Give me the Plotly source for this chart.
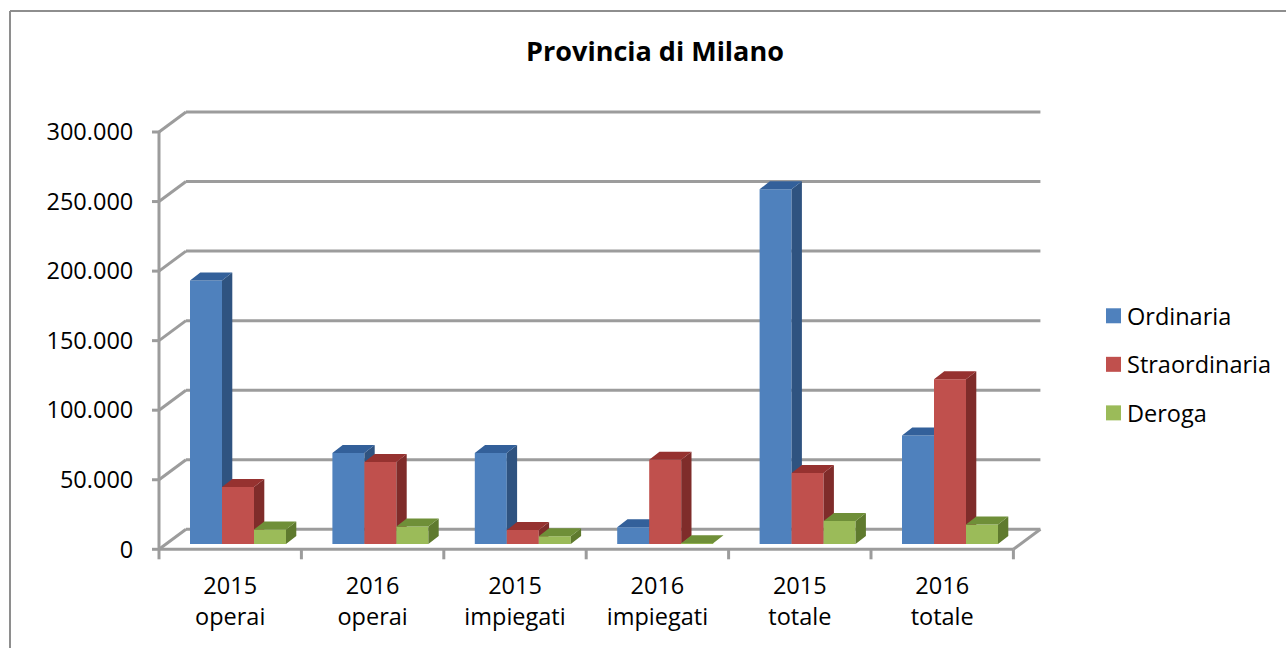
import plotly.graph_objects as go

title = "Provincia di Milano"
categories = ["2015<br>operai", "2016<br>operai", "2015<br>impiegati", "2016<br>impiegati", "2015<br>totale", "2016<br>totale"]
series_names = ["Ordinaria", "Straordinaria", "Deroga"]
ordinaria = [189500, 65500, 65500, 12000, 255000, 78000]
straordinaria = [41000, 59000, 10000, 60500, 51000, 118500]
deroga = [10500, 12500, 5500, 500, 16500, 14000]
y_ticks = [0, 50000, 100000, 150000, 200000, 250000, 300000]
y_tick_labels = ["0", "50.000", "100.000", "150.000", "200.000", "250.000", "300.000"]

front = ["#4F81BD", "#C0504D", "#9BBB59"]
side = ["#2F5380", "#7F2C2A", "#5F7A2E"]
top = ["#33609A", "#963230", "#6F8F38"]
GRID = "#9C9C9C"
FONT = "Open Sans"
FS = 23.5

W, H = 1286, 648
L, R, T, B = 148, 1048, 95, 562
PX_X = 142.4
PX_Y = 417.3 / 300000
X0_PX, Y0_PX = 159, 549.3
xr = [-0.5 + (L - X0_PX) / PX_X, -0.5 + (R - X0_PX) / PX_X]
yr = [(Y0_PX - B) / PX_Y, (Y0_PX - T) / PX_Y]
DX, DY = 27 / PX_X, 20 / PX_Y          # depth of the chart walls
BAR_W = 32 / PX_X
BAR_SHIFT = 7.8 / PX_X
BAR_BASE = 5.3 / PX_Y
BDX, BDY = 10.3 / PX_X, 8 / PX_Y       # depth of one bar
xs0, xs1 = -0.5, 5.5

fig = go.Figure()
values = [ordinaria, straordinaria, deroga]
for s, (name, vals) in enumerate(zip(series_names, values)):
    suffix = "" if s == 0 else str(s + 1)
    xa, ya = "x" + suffix, "y" + suffix
    xc = [i + BAR_SHIFT + (s - 1) * BAR_W for i in range(len(vals))]
    fig.add_trace(go.Bar(x=xc, y=vals, base=[BAR_BASE] * len(vals), width=BAR_W, marker=dict(color=front[s], line=dict(width=0)),
                         name=name, xaxis=xa, yaxis=ya, showlegend=False))
    sx, sy, tx, ty = [], [], [], []
    for c, v in zip(xc, vals):
        r, l, b, t = c + BAR_W / 2, c - BAR_W / 2, BAR_BASE, BAR_BASE + v
        sx += [r, r + BDX, r + BDX, r, r, None]
        sy += [b, b + BDY, t + BDY, t, b, None]
        tx += [l, l + BDX, r + BDX, r, l, None]
        ty += [t, t + BDY, t + BDY, t, t, None]
    fig.add_trace(go.Scatter(x=sx, y=sy, mode="lines", fill="toself", fillcolor=side[s], line=dict(width=0), xaxis=xa, yaxis=ya, showlegend=False, hoverinfo="skip"))
    fig.add_trace(go.Scatter(x=tx, y=ty, mode="lines", fill="toself", fillcolor=top[s], line=dict(width=0), xaxis=xa, yaxis=ya, showlegend=False, hoverinfo="skip"))
    fig.add_trace(go.Scatter(x=[None], y=[None], mode="markers", name=name, legendgroup=name,
                             marker=dict(symbol="square", size=15, color=front[s]), xaxis=xa, yaxis=ya, hoverinfo="skip"))

shapes = []
def seg(x0, y0, x1, y1):
    shapes.append(dict(type="line", xref="x", yref="y", x0=x0, y0=y0, x1=x1, y1=y1, layer="below", line=dict(color=GRID, width=3)))
for v in y_ticks:
    seg(xs0, v, xs0 + DX, v + DY)
    seg(xs0 + DX, v + DY, xs1 + DX, v + DY)
    seg(xs0 - 7 / PX_X, v, xs0, v)
seg(xs0, 0, xs0, y_ticks[-1])
seg(xs0, 0, xs1, 0)
seg(xs1, 0, xs1 + DX, DY)
for i in range(len(categories) + 1):
    seg(xs0 + i, 0, xs0 + i, -10 / PX_Y)
# outer chart frame
fy = (H - 11 - (H - B)) / (B - T)
fx = (10 - L) / (R - L)
shapes.append(dict(type="line", xref="paper", yref="paper", x0=fx, x1=(W - L) / (R - L), y0=fy, y1=fy, line=dict(color="#8E8E8E", width=2)))
shapes.append(dict(type="line", xref="paper", yref="paper", x0=fx, x1=fx, y0=-(H - B) / (B - T), y1=fy, line=dict(color="#8E8E8E", width=2)))

axis_off = dict(range=xr, visible=False, fixedrange=True)
fig.update_layout(
    width=W, height=H, autosize=False,
    margin=dict(l=L, r=W - R, t=T, b=H - B, pad=0, autoexpand=False),
    paper_bgcolor="white", plot_bgcolor="rgba(0,0,0,0)",
    font=dict(family=FONT, color="black", size=FS),
    title=dict(text="<b>" + title + "</b>", x=655 / W, xanchor="center", y=1 - 52 / H, yanchor="middle", font=dict(size=27, family=FONT)),
    shapes=shapes,
    barmode="overlay",
    showlegend=True,
    legend=dict(x=(1087 - L) / (R - L), y=(H - 294 - (H - B)) / (B - T), xanchor="left", yanchor="top", xref="paper", yref="paper",
                bgcolor="rgba(0,0,0,0)", font=dict(size=FS, family=FONT), tracegroupgap=15, itemsizing="trace"),
    xaxis=dict(range=xr, tickmode="array", tickvals=list(range(6)), ticktext=categories, ticks="outside", ticklen=3, tickcolor="rgba(0,0,0,0)",
               showgrid=False, zeroline=False, showline=False, fixedrange=True, tickfont=dict(size=FS)),
    yaxis=dict(range=yr, tickmode="array", tickvals=y_ticks, ticktext=y_tick_labels, ticks="outside", ticklen=9, tickcolor="rgba(0,0,0,0)",
               showgrid=False, zeroline=False, showline=False, fixedrange=True, tickfont=dict(size=FS)),
)
for n in (2, 3):
    fig.update_layout({f"xaxis{n}": dict(axis_off, overlaying="x"), f"yaxis{n}": dict(range=yr, visible=False, fixedrange=True, overlaying="y")})
fig.write_html("out.html", config=dict(displayModeBar=False),
               post_script="document.body.style.margin='0';document.querySelectorAll('.legendsymbols').forEach(function(g){g.setAttribute('transform','translate(6.5,0)');});")
